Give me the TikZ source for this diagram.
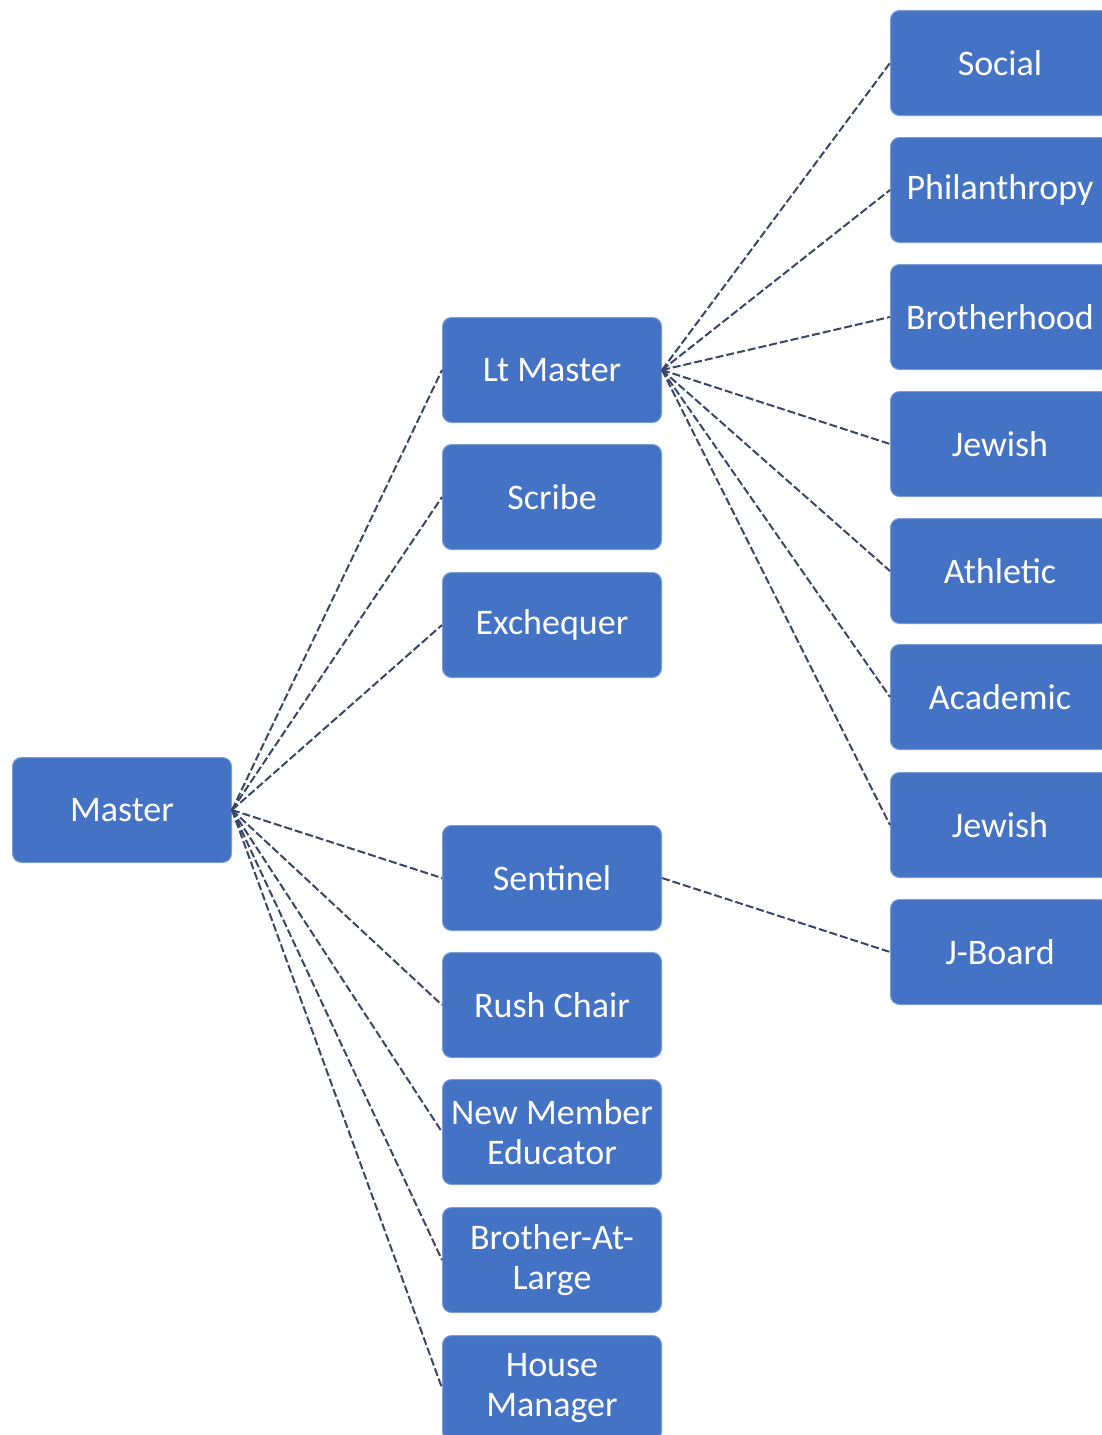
\documentclass[tikz,border=0pt]{standalone}
\usepackage{fontspec}
\setmainfont{Carlito}
\definecolor{boxblue}{HTML}{4472C4}
\definecolor{linecol}{HTML}{3A4668}
\begin{document}
\begin{tikzpicture}[x=1pt,y=-1pt,
  box/.style={rectangle, rounded corners=9pt, fill=boxblue, draw=boxblue!70!white, line width=1pt,
    minimum width=219pt, minimum height=105pt, inner sep=2pt, align=center,
    text=white, font=\fontsize{36}{40}\selectfont},
  conn/.style={draw=linecol, line width=2pt, dash pattern=on 8pt off 3pt}]
\useasboundingbox (0,0) rectangle (1102,1435);
\clip (0,0) rectangle (1102,1435);
% root
\node[box] (master) at (122,810) {Master};
% middle column
\node[box] (lt) at (552,370) {Lt Master};
\node[box] (scribe) at (552,497) {Scribe};
\node[box] (exch) at (552,625) {Exchequer};
\node[box] (sent) at (552,878) {Sentinel};
\node[box] (rush) at (552,1005) {Rush Chair};
\node[box] (nme) at (552,1132) {New Member\\Educator};
\node[box] (bal) at (552,1260) {Brother-At-\\Large};
\node[box] (house) at (552,1388) {House\\Manager};
% right column
\node[box] (social) at (1000,63) {Social};
\node[box] (phil) at (1000,190) {Philanthropy};
\node[box] (broth) at (1000,317) {Brotherhood};
\node[box] (jew1) at (1000,444) {Jewish};
\node[box] (ath) at (1000,571) {Athletic};
\node[box] (acad) at (1000,697) {Academic};
\node[box] (jew2) at (1000,825) {Jewish};
\node[box] (jboard) at (1000,952) {J-Board};
% connectors
\foreach \c in {lt,scribe,exch,sent,rush,nme,bal,house}
  \draw[conn] (master.east) -- (\c.west);
\foreach \c in {social,phil,broth,jew1,ath,acad,jew2}
  \draw[conn] (lt.east) -- (\c.west);
\draw[conn] (sent.east) -- (jboard.west);
\end{tikzpicture}
\end{document}
